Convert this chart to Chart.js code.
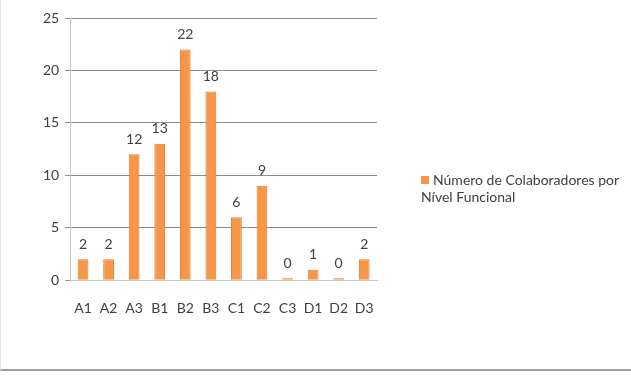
<!DOCTYPE html>
<html>
<head>
<meta charset="utf-8">
<script src="https://cdn.jsdelivr.net/npm/chart.js@4"></script>
<style>
  html, body { margin: 0; padding: 0; background: #fff; }
  #wrap {
    position: relative;
    width: 630px;
    height: 369px;
    border-left: 1px solid #e4e4e4;
    border-bottom: 2px solid #a0a0a0;
  }
  #legend {
    position: absolute;
    left: 420px;
    top: 171px;
    font-family: Lato, 'Open Sans', sans-serif;
    font-size: 14px;
    line-height: 17px;
    color: #404040;
  }
  #legend .box {
    display: inline-block;
    width: 8px;
    height: 8px;
    background: #f79646;
    margin-right: 4px;
    vertical-align: 1px;
  }
</style>
</head>
<body>
<div id="wrap">
  <canvas id="chart" width="630" height="369"></canvas>
  <div id="legend"><span class="box"></span>Número de Colaboradores por<br>Nível Funcional</div>
</div>
<script>
'use strict';
// ******* DATA ********
let levels = ['A1', 'A2', 'A3', 'B1', 'B2', 'B3', 'C1', 'C2', 'C3', 'D1', 'D2', 'D3'];
let collaborators = [2, 2, 12, 13, 22, 18, 6, 9, 0, 1, 0, 2];
let seriesName = 'Número de Colaboradores por Nível Funcional';
let yTicks = [0, 5, 10, 15, 20, 25];

// value labels above each bar
let valueLabels = {
  id: 'valueLabels',
  afterDatasetsDraw(chart) {
    let ctx = chart.ctx;
    let meta = chart.getDatasetMeta(0);
    ctx.save();
    ctx.font = '14px Lato, "Open Sans", sans-serif';
    ctx.fillStyle = '#404040';
    ctx.textAlign = 'center';
    ctx.textBaseline = 'bottom';
    meta.data.forEach(function (bar, i) {
      ctx.fillText(String(collaborators[i]), bar.x, bar.y - 8);
    });
    ctx.restore();
  }
};

let canvasElem = document.getElementById('chart');

new Chart(canvasElem, { // eslint-disable-line
  type: 'bar',
  data: {
    labels: levels,
    datasets: [{
      label: seriesName,
      data: collaborators,
      backgroundColor: '#f79646',
      borderColor: '#e07b2a',
      borderWidth: 1,
      barPercentage: 0.42,
      categoryPercentage: 1,
      minBarLength: 2
    }]
  },
  options: {
    responsive: false,
    animation: false,
    layout: { padding: { top: 18, left: 36, right: 254, bottom: 40 } },
    plugins: {
      legend: { display: false },
      tooltip: { enabled: false }
    },
    scales: {
      y: {
        min: 0,
        max: 25,
        afterBuildTicks(axis) {
          axis.ticks = yTicks.map(function (v) { return { value: v }; });
        },
        grid: { color: '#8c8c8c', drawTicks: true, tickLength: 5 },
        border: { color: '#c8c8c8' },
        ticks: {
          color: '#404040',
          font: { family: 'Lato, "Open Sans", sans-serif', size: 14 },
          padding: 6
        }
      },
      x: {
        grid: { display: false, drawTicks: true },
        border: { color: '#c8c8c8' },
        ticks: {
          color: '#404040',
          font: { family: 'Lato, "Open Sans", sans-serif', size: 14 },
          padding: 12,
          maxRotation: 0
        }
      }
    }
  },
  plugins: [valueLabels]
});
</script>
</body>
</html>
